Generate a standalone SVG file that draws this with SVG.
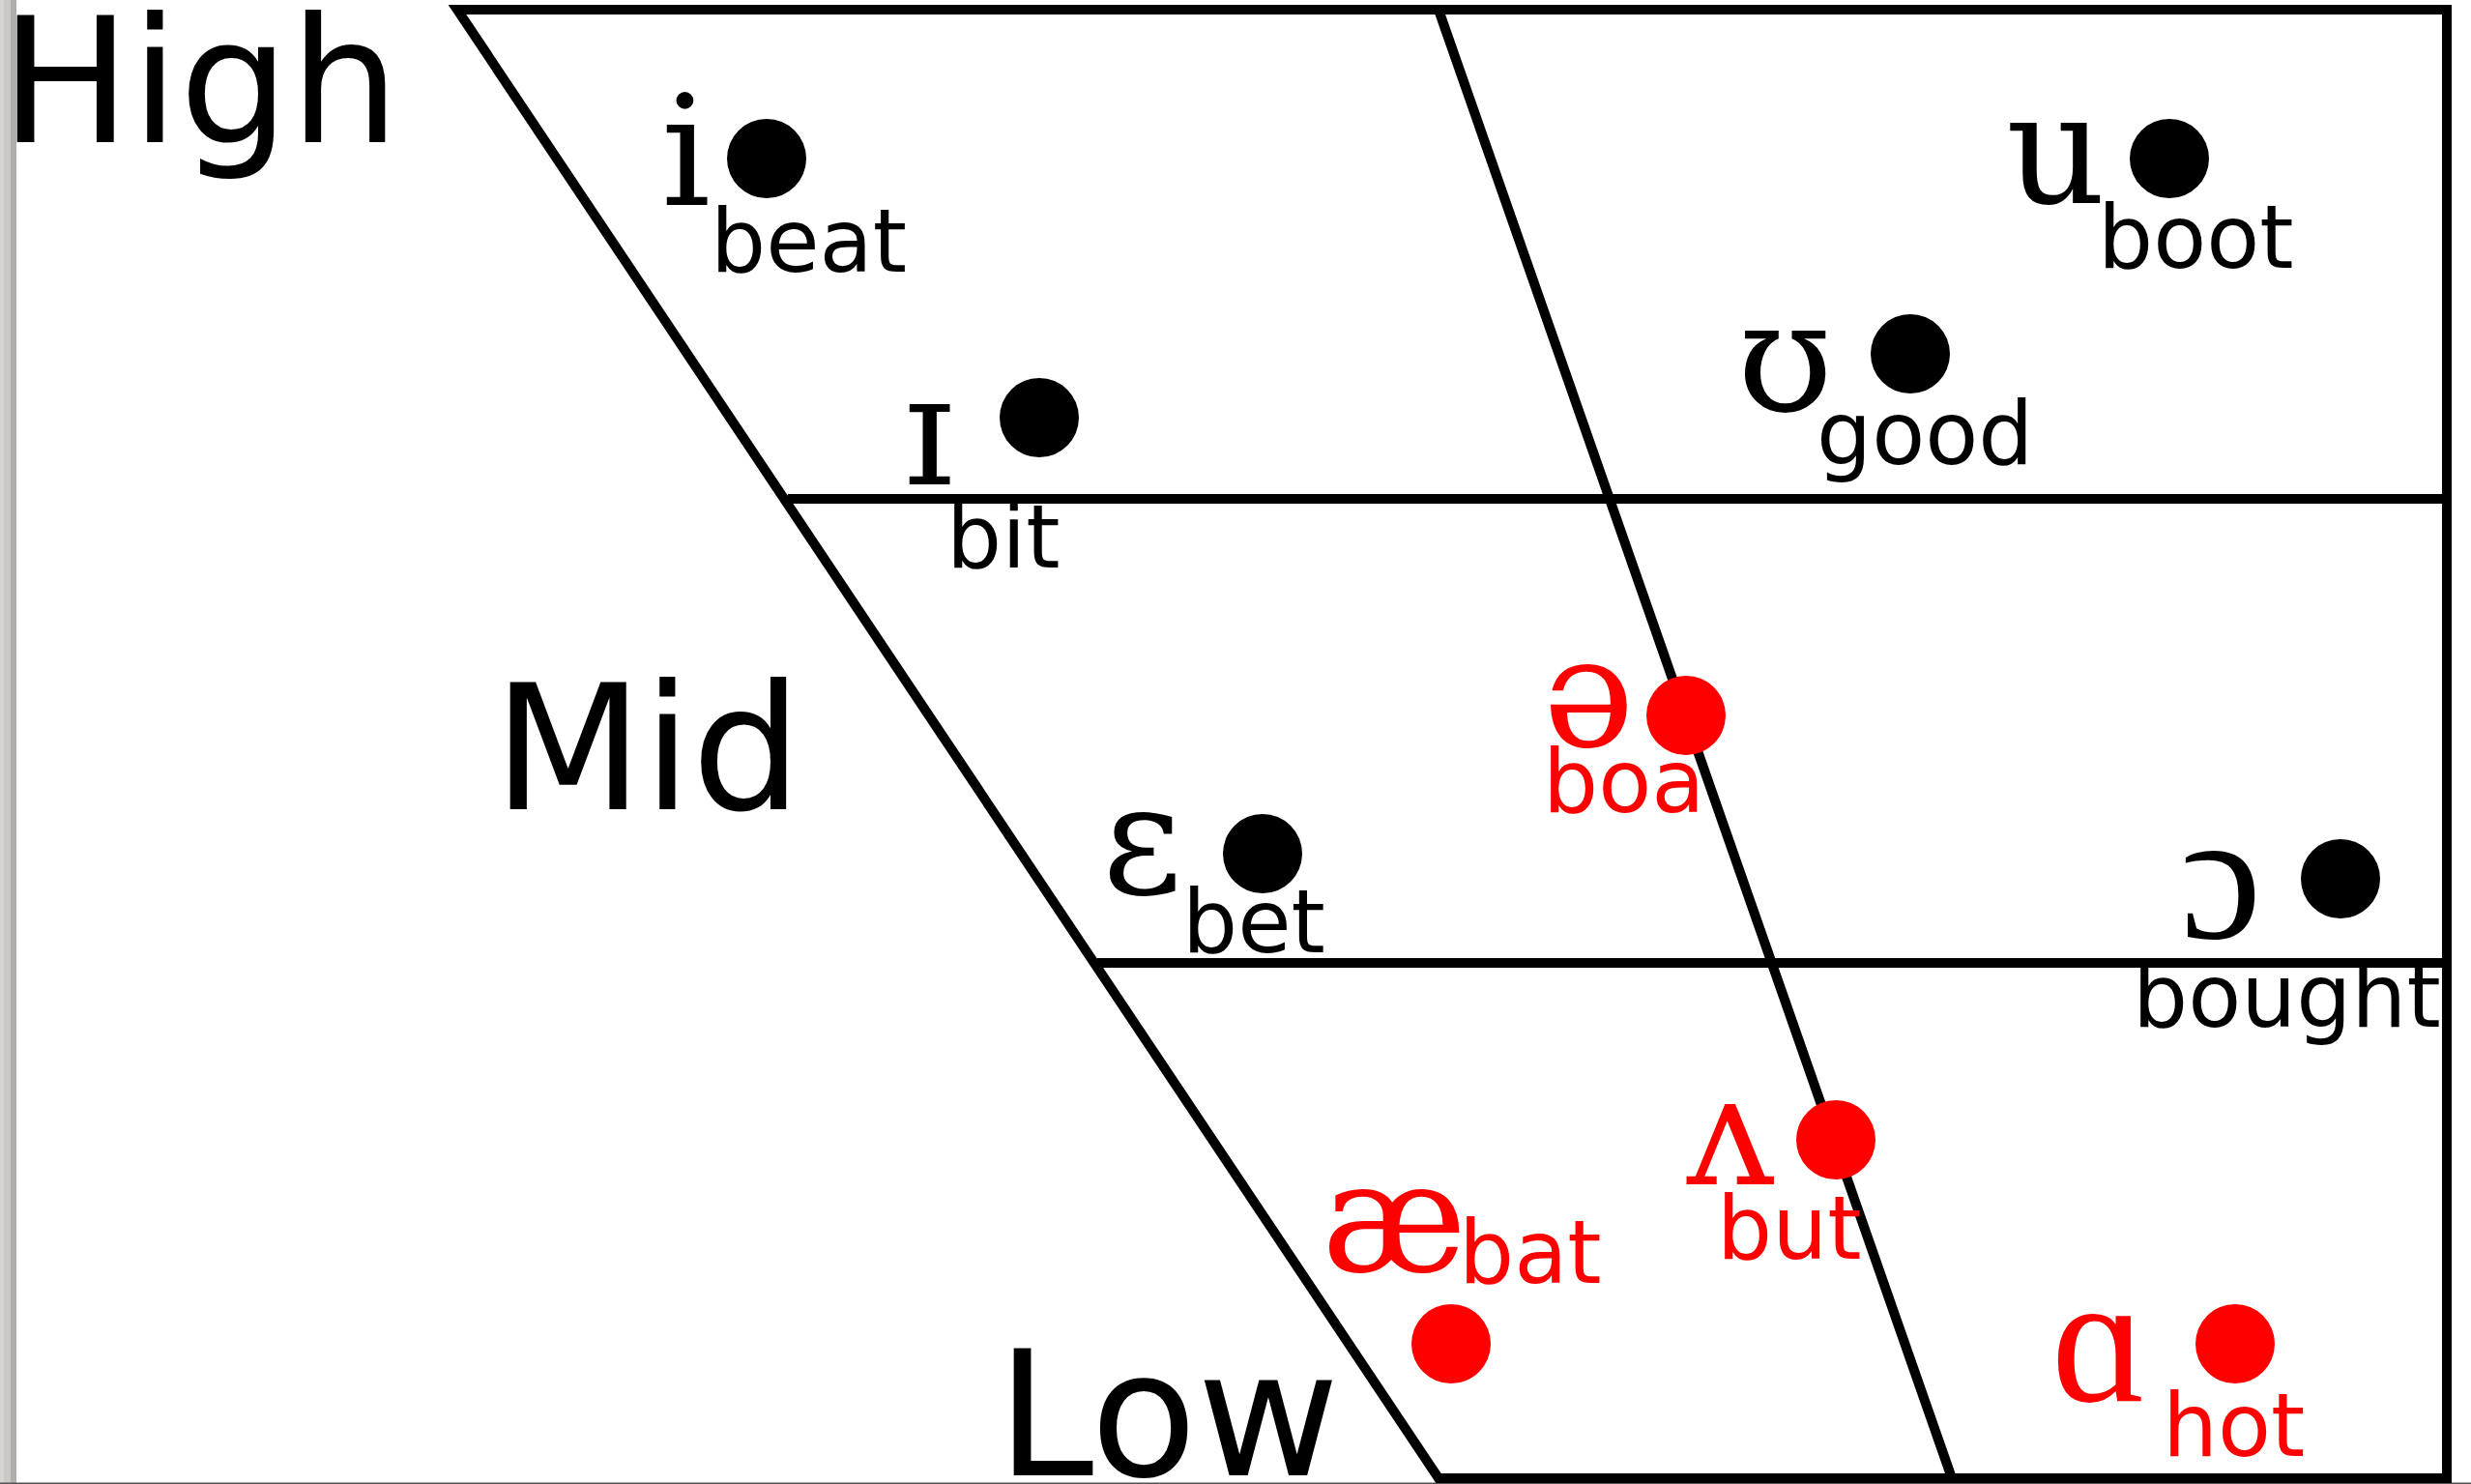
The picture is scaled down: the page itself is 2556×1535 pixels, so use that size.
<svg xmlns="http://www.w3.org/2000/svg" width="2556" height="1535" viewBox="0 0 2556 1535">
<style>
.ln{fill:none;stroke:#000;stroke-width:10;stroke-linejoin:miter;stroke-miterlimit:20}
.big{font-family:"DejaVu Sans","Liberation Sans",sans-serif;font-size:180px;fill:#000}
.w{font-family:"DejaVu Sans","Liberation Sans",sans-serif;font-size:90px}
.ipa{font-family:"DejaVu Serif","Liberation Serif",serif;font-size:160px}
.ipa2{font-family:"Liberation Serif","DejaVu Serif",serif;font-size:190px}
.k{fill:#000}
.r{fill:#ff0000}
</style>
<rect x="0" y="0" width="2556" height="1535" fill="#fff"/>
<g id="frame">
<rect x="0" y="0" width="4" height="1535" fill="#d7d5d1"/>
<rect x="4" y="0" width="7" height="1535" fill="#cbc9c5"/>
<rect x="11" y="0" width="6" height="1535" fill="#b1afab"/>
<rect x="0" y="1533.5" width="2556" height="1.5" fill="#555"/>
</g>
<g id="chart">
<polygon class="ln" points="473,10 2531,10 2531,1529 1488,1529"/>
<line class="ln" x1="1488" y1="10" x2="2019" y2="1529" stroke-width="9"/>
<line class="ln" x1="815" y1="516" x2="2531" y2="516"/>
<line class="ln" x1="1135" y1="996" x2="2531" y2="996"/>
</g>
<g id="axis-labels">
<text class="big" x="0" y="147">High</text>
<text class="big" x="510" y="837">Mid</text>
<text class="big" x="1031" y="1526">Low</text>
</g>
<g id="v-i"><text class="ipa k" x="684" y="212">i</text><circle class="k" cx="793" cy="164" r="41"/><text class="w k" x="735" y="281">beat</text></g>
<g id="v-ih"><text class="ipa k" x="935" y="501">ɪ</text><circle class="k" cx="1075" cy="432" r="41"/><text class="w k" x="979" y="587">bit</text></g>
<g id="v-eh"><text class="ipa k" x="1140" y="924">ɛ</text><circle class="k" cx="1306" cy="883" r="41"/><text class="w k" x="1223" y="985">bet</text></g>
<g id="v-schwa"><text class="ipa r" x="1596" y="772">ə</text><circle class="r" cx="1744" cy="740" r="41"/><text class="w r" x="1596" y="840">boa</text></g>
<g id="v-uh"><text class="ipa k" x="1797" y="425">ʊ</text><circle class="k" cx="1976" cy="366" r="41"/><text class="w k" x="1879" y="480">good</text></g>
<g id="v-u"><text class="ipa k" x="2075" y="210">u</text><circle class="k" cx="2244" cy="164" r="41"/><text class="w k" x="2170" y="277">boot</text></g>
<g id="v-oh"><text class="ipa2 k" x="2255" y="970">ɔ</text><circle class="k" cx="2421" cy="909" r="41"/><text class="w k" x="2206" y="1062">bought</text></g>
<g id="v-wedge"><text class="ipa r" x="1745" y="1225">ʌ</text><circle class="r" cx="1899" cy="1179" r="41"/><text class="w r" x="1776" y="1302">but</text></g>
<g id="v-ae"><text class="ipa r" x="1367" y="1315">æ</text><circle class="r" cx="1501" cy="1390" r="41"/><text class="w r" x="1509" y="1327">bat</text></g>
<g id="v-a"><text class="ipa2 r" x="2122" y="1449">ɑ</text><circle class="r" cx="2312" cy="1390" r="41"/><text class="w r" x="2237" y="1506">hot</text></g>
</svg>
